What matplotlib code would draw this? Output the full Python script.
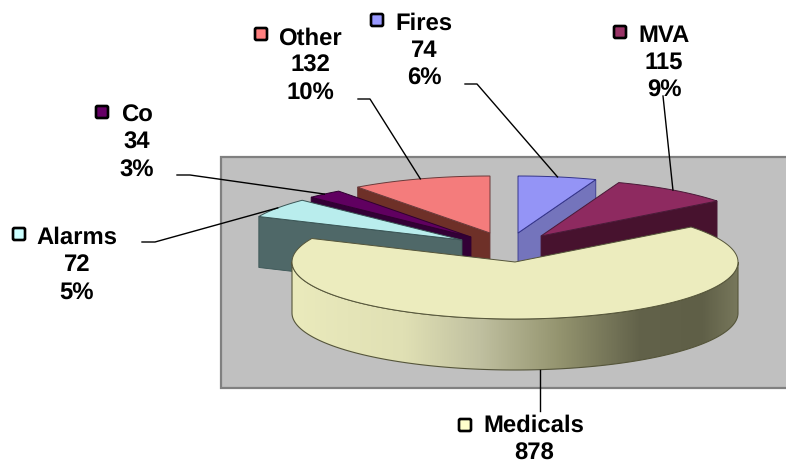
import numpy as np
import matplotlib
matplotlib.use("Agg")
import matplotlib.pyplot as plt
from matplotlib.colors import LinearSegmentedColormap
from matplotlib.patches import Polygon, Rectangle, FancyBboxPatch

plt.rcParams["text.hinting"] = "none"

# slices, clockwise from 12 o'clock
names = ["Fires", "MVA", "Medicals", "Alarms", "Co", "Other"]
values = [74, 115, 878, 72, 34, 132]
percents = ["6%", "9%", "", "5%", "3%", "10%"]

top_colors = ["#9494F6", "#8E2A60", "#ECECBE", "#B9EDED", "#600060", "#F47C7C"]
side_colors = ["#7474BC", "#47122E", "#ECECBE", "#4F6868", "#330036", "#6E3028"]
edge_colors = ["#34348A", "#4A1A38", "#55553A", "#3A5555", "#300030", "#6A3A3A"]
key_colors = ["#9999FF", "#993366", "#FFFFCC", "#CCFFFF", "#660066", "#FF8080"]

# apex of each exploded slice, in pixels
apex_x = [518, 541, 515, 462, 471, 490]
apex_y = [233, 236, 262, 240, 237, 233]
# centre of the label text and y of its first line
label_x = [424, 664, 534, 77, 137, 310]
label_y = [21, 33, 423.5, 235, 113, 36]
key_x = [370, 613, 458, 12, 95, 254]
key_y = [20, 32, 425, 234, 112, 34]
# where the leader leaves the label
leader_x = [[465, 477], [663], [539.5], [142, 155], [177, 190], [358, 370]]
leader_y = [[84, 84], [96], [411], [242, 242], [175, 175], [99, 99]]

RX = 223
RY = 57
DEPTH = 51
LINE = 27.5


def ellipse_xy(cx, cy, t):
    return cx + RX * np.cos(np.radians(t)), cy - RY * np.sin(np.radians(t))


fig = plt.figure(figsize=(7.86, 4.65), dpi=100)
ax = fig.add_axes([0, 0, 1, 1])
ax.axis("off")

# grey plot wall
ax.add_patch(Rectangle((221, 157), 570, 231, facecolor="#C0C0C0", edgecolor="#808080", lw=1.6, zorder=1))

sweeps = 360 * np.array(values) / sum(values)
starts = 90 - np.concatenate([[0], np.cumsum(sweeps)[:-1]])
ends = starts - sweeps

rim_shade = LinearSegmentedColormap.from_list("rim", [(0, "#EAEABC"), (0.25, "#E0E0B4"), (0.42, "#C0C0A0"),
                                                      (0.6, "#94946F"), (0.78, "#62624A"), (0.92, "#5F5F47"),
                                                      (1, "#77775B")])

# back to front
draw_order = [5, 4, 3, 0, 1, 2]
z = 2
for i in draw_order:
    cx, cy = apex_x[i], apex_y[i]
    t = np.linspace(starts[i], ends[i], 200)
    ex, ey = ellipse_xy(cx, cy, t)

    if names[i] == "Medicals":
        # front rim with the shading running left to right
        rx, ry = ellipse_xy(cx, cy, np.linspace(180, 360, 200))
        rim = np.column_stack([np.r_[rx, rx[::-1]], np.r_[ry, ry[::-1] + DEPTH]])
        img = ax.imshow(np.linspace(0, 1, 256).reshape(1, -1), cmap=rim_shade, aspect="auto", zorder=z,
                        extent=(rx.min(), rx.max(), ry.max() + DEPTH, ry.min()))
        img.set_clip_path(Polygon(rim, closed=True, transform=ax.transData))
        ax.add_patch(Polygon(rim, closed=True, facecolor="none", edgecolor="#55553A", lw=0.8, zorder=z + 1))
    else:
        # radial face that looks to the viewer
        if names[i] in ["Fires", "MVA"]:
            fx, fy = ex[-1], ey[-1]
        else:
            fx, fy = ex[0], ey[0]
        face = [(cx, cy), (fx, fy), (fx, fy + DEPTH), (cx, cy + DEPTH)]
        ax.add_patch(Polygon(face, closed=True, facecolor=side_colors[i], edgecolor=edge_colors[i], lw=0.6, zorder=z))

    top = np.column_stack([np.r_[cx, ex], np.r_[cy, ey]])
    ax.add_patch(Polygon(top, closed=True, facecolor=top_colors[i], edgecolor=edge_colors[i], lw=0.7, zorder=z + 2))
    z += 3

# labels, keys and leader lines
for i in range(len(names)):
    lines = [names[i], str(values[i])]
    if percents[i]:
        lines.append(percents[i])
    for n, s in enumerate(lines):
        ax.text(label_x[i], label_y[i] + 8.5 + n * LINE, s, ha="center", va="baseline", fontsize=17.2,
                fontweight="bold", family="Liberation Sans", color="black", zorder=50)
    ax.add_patch(FancyBboxPatch((key_x[i] + 2, key_y[i] - 5), 10, 10, boxstyle="round,pad=1,rounding_size=1.5",
                                facecolor=key_colors[i], edgecolor="black", lw=1.9, zorder=50))

    mid = (starts[i] + ends[i]) / 2
    mx, my = ellipse_xy(apex_x[i], apex_y[i], mid)
    if names[i] == "Medicals":
        mx = leader_x[i][0]
        my += DEPTH
    ax.plot(leader_x[i] + [mx], leader_y[i] + [my], color="black", lw=1, zorder=40)

ax.set_xlim(0, 786)
ax.set_ylim(465, 0)
fig.savefig("out.png", dpi=100)
